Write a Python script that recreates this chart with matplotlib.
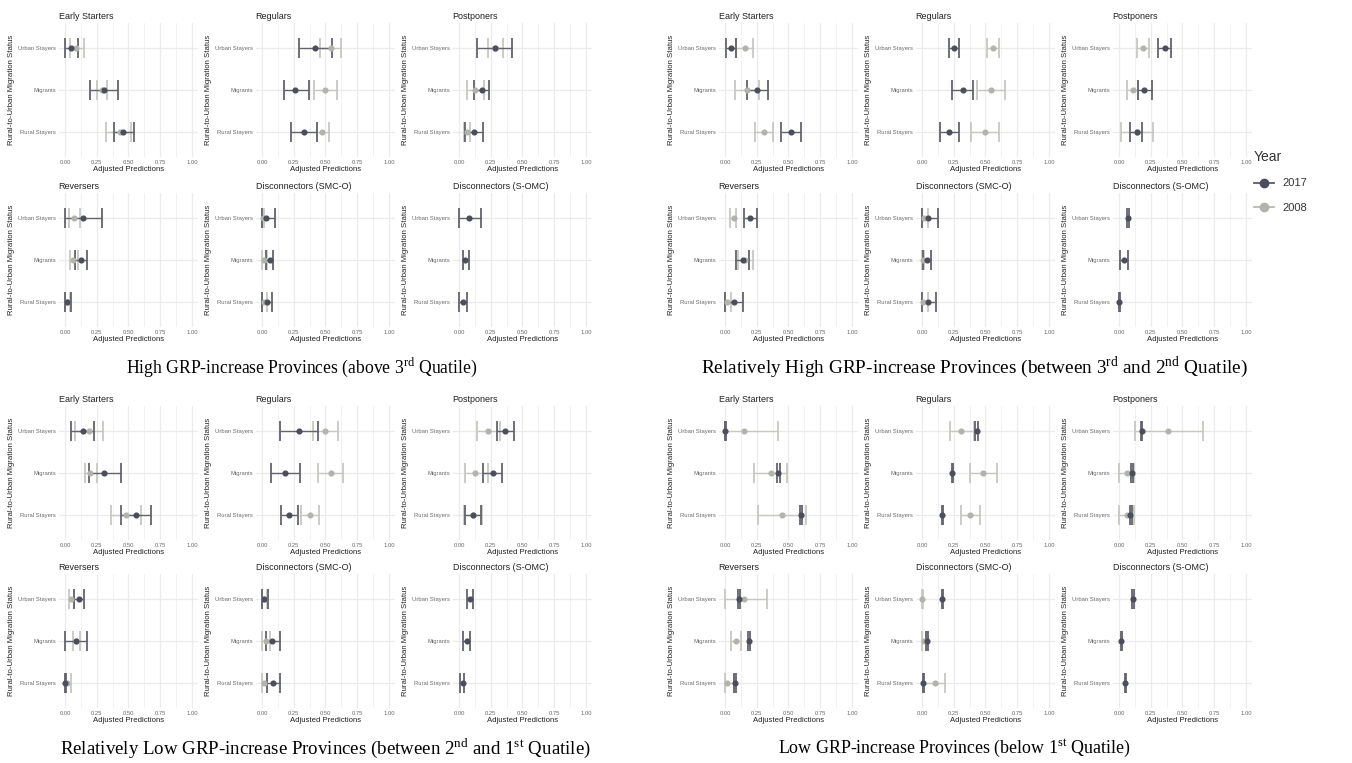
import numpy as np
import matplotlib
matplotlib.use("Agg")
import matplotlib.pyplot as plt
from matplotlib.lines import Line2D

plt.rcParams.update({
    "font.family": ["Liberation Sans", "DejaVu Sans"],
    "mathtext.fontset": "custom",
    "mathtext.rm": "Liberation Serif",
})

CATEGORIES = ["Urban Stayers", "Migrants", "Rural Stayers"]
PANELS = ["Early Starters", "Regulars", "Postponers",
          "Reversers", "Disconnectors (SMC-O)", "Disconnectors (S-OMC)"]
YEARS = ["2017", "2008"]
BLOCK_TITLES = [
    r"High GRP-increase Provinces (above 3$^{\mathrm{rd}}$ Quatile)",
    r"Relatively High GRP-increase Provinces (between 3$^{\mathrm{rd}}$ and 2$^{\mathrm{nd}}$ Quatile)",
    r"Relatively Low GRP-increase Provinces (between 2$^{\mathrm{nd}}$ and 1$^{\mathrm{st}}$ Quatile)",
    r"Low GRP-increase Provinces (below 1$^{\mathrm{st}}$ Quatile)",
]
N = np.nan

# each row = one panel, values for Urban Stayers, Migrants, Rural Stayers
# --- High GRP-increase
high_est_2017 = [[0.05, 0.31, 0.46], [0.42, 0.26, 0.33], [0.28, 0.18, 0.12],
                 [0.14, 0.125, 0.02], [0.03, 0.06, 0.04], [0.08, 0.05, 0.03]]
high_lo_2017 = [[0.00, 0.20, 0.39], [0.29, 0.17, 0.23], [0.14, 0.12, 0.05],
                [0.00, 0.08, 0.00], [0.00, 0.03, 0.00], [0.00, 0.03, 0.00]]
high_hi_2017 = [[0.10, 0.42, 0.54], [0.55, 0.37, 0.43], [0.42, 0.24, 0.19],
                [0.29, 0.175, 0.05], [0.10, 0.09, 0.08], [0.17, 0.08, 0.06]]
high_est_2008 = [[0.09, 0.29, 0.43], [0.54, 0.50, 0.47], [0.28, 0.13, 0.06],
                 [0.07, 0.065, 0.02], [0.01, 0.02, 0.02], [N, N, N]]
high_lo_2008 = [[0.04, 0.25, 0.32], [0.46, 0.41, 0.43], [0.23, 0.06, 0.04],
                [0.03, 0.04, 0.00], [0.00, 0.00, 0.00], [N, N, N]]
high_hi_2008 = [[0.15, 0.33, 0.52], [0.62, 0.59, 0.53], [0.35, 0.20, 0.09],
                [0.12, 0.10, 0.04], [0.02, 0.04, 0.04], [N, N, N]]

# --- Relatively high
rhigh_est_2017 = [[0.05, 0.25, 0.52], [0.25, 0.32, 0.21], [0.36, 0.20, 0.14],
                  [0.20, 0.14, 0.07], [0.05, 0.04, 0.05], [0.07, 0.04, 0.00]]
rhigh_lo_2017 = [[0.01, 0.17, 0.44], [0.21, 0.24, 0.14], [0.31, 0.15, 0.09],
                 [0.15, 0.09, 0.00], [0.00, 0.01, 0.00], [0.06, 0.01, 0.00]]
rhigh_hi_2017 = [[0.09, 0.34, 0.60], [0.29, 0.40, 0.29], [0.41, 0.26, 0.18],
                 [0.25, 0.19, 0.14], [0.13, 0.07, 0.11], [0.08, 0.07, 0.01]]
rhigh_est_2008 = [[0.155, 0.175, 0.31], [0.56, 0.54, 0.50], [0.19, 0.11, 0.14],
                  [0.07, 0.16, 0.02], [0.02, 0.01, 0.01], [N, N, N]]
rhigh_lo_2008 = [[0.09, 0.08, 0.24], [0.51, 0.43, 0.39], [0.14, 0.06, 0.02],
                 [0.04, 0.10, 0.00], [0.00, 0.00, 0.00], [N, N, N]]
rhigh_hi_2008 = [[0.22, 0.27, 0.38], [0.61, 0.65, 0.61], [0.24, 0.15, 0.27],
                 [0.09, 0.22, 0.05], [0.05, 0.02, 0.05], [N, N, N]]

# --- Relatively low
rlow_est_2017 = [[0.14, 0.31, 0.56], [0.29, 0.18, 0.21], [0.36, 0.27, 0.11],
                 [0.11, 0.09, 0.00], [0.02, 0.08, 0.09], [0.09, 0.06, 0.03]]
rlow_lo_2017 = [[0.05, 0.19, 0.44], [0.14, 0.07, 0.15], [0.30, 0.19, 0.05],
                [0.07, 0.00, 0.00], [0.00, 0.03, 0.04], [0.06, 0.03, 0.01]]
rlow_hi_2017 = [[0.23, 0.44, 0.68], [0.44, 0.30, 0.28], [0.43, 0.34, 0.17],
                [0.15, 0.17, 0.005], [0.05, 0.14, 0.14], [0.11, 0.09, 0.04]]
rlow_est_2008 = [[0.19, 0.20, 0.48], [0.50, 0.54, 0.38], [0.23, 0.13, 0.11],
                 [0.05, 0.09, 0.02], [0.02, 0.03, 0.02], [N, N, N]]
rlow_lo_2008 = [[0.08, 0.16, 0.36], [0.40, 0.44, 0.31], [0.14, 0.05, 0.04],
                [0.03, 0.06, 0.00], [0.00, 0.00, 0.00], [N, N, N]]
rlow_hi_2008 = [[0.30, 0.25, 0.60], [0.60, 0.64, 0.45], [0.32, 0.23, 0.18],
                [0.07, 0.12, 0.05], [0.04, 0.06, 0.04], [N, N, N]]

# --- Low
low_est_2017 = [[0.00, 0.42, 0.60], [0.43, 0.24, 0.16], [0.18, 0.10, 0.09],
                [0.11, 0.19, 0.08], [0.16, 0.04, 0.01], [0.11, 0.02, 0.05]]
low_lo_2017 = [[0.00, 0.41, 0.59], [0.42, 0.235, 0.155], [0.175, 0.095, 0.085],
               [0.105, 0.185, 0.07], [0.155, 0.035, 0.005], [0.105, 0.015, 0.045]]
low_hi_2017 = [[0.005, 0.43, 0.61], [0.44, 0.245, 0.165], [0.185, 0.11, 0.10],
               [0.115, 0.195, 0.085], [0.165, 0.045, 0.02], [0.115, 0.025, 0.055]]
low_est_2008 = [[0.15, 0.36, 0.45], [0.31, 0.48, 0.38], [0.39, 0.06, 0.06],
                [0.15, 0.09, 0.02], [0.00, 0.02, 0.10], [N, N, N]]
low_lo_2008 = [[0.00, 0.23, 0.26], [0.22, 0.38, 0.31], [0.13, 0.00, 0.00],
               [0.00, 0.05, 0.00], [0.00, 0.00, 0.01], [N, N, N]]
low_hi_2008 = [[0.42, 0.49, 0.64], [0.41, 0.59, 0.46], [0.66, 0.12, 0.12],
               [0.33, 0.13, 0.07], [0.005, 0.04, 0.18], [N, N, N]]

BLOCKS = [
    (high_est_2017, high_lo_2017, high_hi_2017, high_est_2008, high_lo_2008, high_hi_2008),
    (rhigh_est_2017, rhigh_lo_2017, rhigh_hi_2017, rhigh_est_2008, rhigh_lo_2008, rhigh_hi_2008),
    (rlow_est_2017, rlow_lo_2017, rlow_hi_2017, rlow_est_2008, rlow_lo_2008, rlow_hi_2008),
    (low_est_2017, low_lo_2017, low_hi_2017, low_est_2008, low_lo_2008, low_hi_2008),
]

DARK = "#4b4e5a"
DARK_BAR = "#63646c"
LIGHT = "#b3b3ad"
LIGHT_BAR = "#c8c8c2"
GRID = "#ebebeb"

W, H = 1352, 763
fig = plt.figure(figsize=(W / 100, H / 100), dpi=100)
fig.patch.set_facecolor("white")

# pixel geometry
block_x = [0, 660, 0, 660]
row_top = [[23, 193], [23, 193], [406, 574], [406, 574]]
panel_x0 = [58.6, 255.6, 452.6]
ax_w, ax_h = 139.7, 134.0
caption_y = [367, 367, 748, 748]
caption_x = [302, 974, 325, 954]
caption_size = [12.7, 13.9, 13.6, 12.9]

ypos = [3, 2, 1]


def draw_year(ax, est, lo, hi, col, bar_col):
    est = np.asarray(est, float)
    ok = ~np.isnan(est)
    if not ok.any():
        return
    x = est[ok]
    y = np.array(ypos)[ok]
    xerr = [x - np.asarray(lo, float)[ok], np.asarray(hi, float)[ok] - x]
    ax.errorbar(x, y, xerr=xerr, fmt="o", color=col, ecolor=bar_col,
                elinewidth=1.0, capsize=7, capthick=1.3, markersize=3.4,
                zorder=3)


for b, data in enumerate(BLOCKS):
    e17, l17, h17, e08, l08, h08 = data
    for p, name in enumerate(PANELS):
        r, c = divmod(p, 3)
        left = block_x[b] + panel_x0[c]
        top = row_top[b][r]
        ax = fig.add_axes([left / W, 1 - (top + ax_h) / H, ax_w / W, ax_h / H])
        ax.set_xlim(-0.05, 1.05)
        ax.set_ylim(0.4, 3.6)
        ax.set_xticks([0, 0.25, 0.5, 0.75, 1.0])
        ax.set_xticklabels(["0.00", "0.25", "0.50", "0.75", "1.00"])
        ax.set_xticks([0.125, 0.375, 0.625, 0.875], minor=True)
        ax.set_yticks(ypos)
        ax.set_yticklabels(CATEGORIES)
        ax.grid(True, which="major", color=GRID, lw=0.9, zorder=0)
        ax.grid(True, which="minor", axis="x", color=GRID, lw=0.5, zorder=0)
        ax.tick_params(which="both", length=0, labelsize=4.2, colors="#6a6a6a",
                       pad=2)
        for s in ax.spines.values():
            s.set_visible(False)
        ax.set_title(name, loc="left", fontsize=6.5, color="#222222", pad=3)
        ax.set_xlabel("Adjusted Predictions", fontsize=5.6, color="#222222",
                      labelpad=1)
        ax.set_ylabel("Rural-to-Urban Migration Status", fontsize=5.6,
                      color="#222222", labelpad=2)
        draw_year(ax, e08[p], l08[p], h08[p], LIGHT, LIGHT_BAR)
        draw_year(ax, e17[p], l17[p], h17[p], DARK, DARK_BAR)

    fig.text(caption_x[b] / W, 1 - caption_y[b] / H, BLOCK_TITLES[b],
             ha="center", va="center", fontsize=caption_size[b],
             family="Liberation Serif", color="black")

handles = [Line2D([], [], color=DARK, marker="o", markersize=6, lw=1.2),
           Line2D([], [], color=LIGHT, marker="o", markersize=6, lw=1.2)]
leg = fig.legend(handles, YEARS, title="Year", loc="upper left",
                 bbox_to_anchor=(1244 / W, 1 - 140 / H), frameon=False,
                 fontsize=8, title_fontsize=10, handlelength=1.8,
                 labelspacing=1.3, alignment="left")
for t in leg.get_texts():
    t.set_color("#333333")
leg.get_title().set_color("#333333")

fig.savefig("out.png", dpi=100)
